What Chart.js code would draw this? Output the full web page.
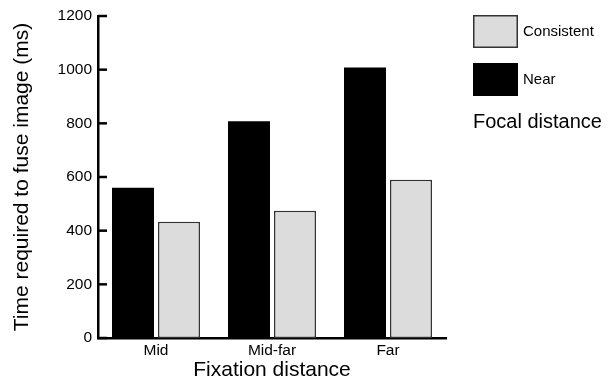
<!DOCTYPE html>
<html>
<head>
<meta charset="utf-8">
<script src="https://cdn.jsdelivr.net/npm/chart.js@4"></script>
<style>
  body { margin: 0; background: #fff; }
  #wrap { width: 612px; height: 381px; }
</style>
</head>
<body>
<div id="wrap"><canvas id="canvas" width="612" height="381"></canvas></div>
<script>
// data
const categories = ['Mid', 'Mid-far', 'Far'];
const nearValues = [560, 808, 1008];
const consistentValues = [433, 474, 590];
const yMin = 0, yMax = 1200, yStep = 200;
const legendTitle = 'Focal distance';

const FONT = "'Liberation Sans', Arial, sans-serif";

// inward tick marks on the y axis
const inwardTicks = {
  id: 'inwardTicks',
  afterDraw(chart) {
    const ctx = chart.ctx;
    const y = chart.scales.y;
    const left = chart.chartArea.left;
    ctx.save();
    ctx.strokeStyle = '#000';
    ctx.lineWidth = 2.5;
    y.ticks.forEach(t => {
      const py = y.getPixelForValue(t.value);
      ctx.beginPath();
      ctx.moveTo(left, py);
      ctx.lineTo(left + 9, py);
      ctx.stroke();
    });
    ctx.restore();
  }
};

// legend on the right: Consistent above Near, title below
const sideLegend = {
  id: 'sideLegend',
  afterDraw(chart) {
    const ctx = chart.ctx;
    const sets = chart.data.datasets.slice().reverse();
    const x = 473, w = 45, h = 33;
    let top = 15;
    ctx.save();
    sets.forEach(ds => {
      ctx.fillStyle = ds.backgroundColor;
      ctx.fillRect(x, top, w, h);
      ctx.strokeStyle = ds.borderColor;
      ctx.lineWidth = 1.5;
      ctx.strokeRect(x + 0.75, top + 0.75, w - 1.5, h - 1.5);
      ctx.fillStyle = '#000';
      ctx.font = '15px ' + FONT;
      ctx.textBaseline = 'middle';
      ctx.fillText(ds.label, x + w + 5, top + h / 2);
      top += 48;
    });
    ctx.font = '20px ' + FONT;
    ctx.textBaseline = 'middle';
    ctx.fillText(legendTitle, x, 122);
    ctx.restore();
  }
};

const ctx = document.getElementById('canvas').getContext('2d');
const myChart = new Chart(ctx, {
  type: 'bar',
  data: {
    labels: categories,
    datasets: [{
      label: 'Near',
      data: nearValues,
      backgroundColor: '#000000',
      borderColor: '#000000',
      borderWidth: 0
    }, {
      label: 'Consistent',
      data: consistentValues,
      backgroundColor: '#dcdcdc',
      borderColor: '#333333',
      borderWidth: 1.5,
      borderSkipped: false
    }]
  },
  options: {
    responsive: false,
    animation: false,
    datasets: {
      bar: { categoryPercentage: 0.793, barPercentage: 0.913 }
    },
    layout: { padding: { left: 0, right: 166, top: 16, bottom: 0 } },
    plugins: {
      legend: { display: false },
      tooltip: { enabled: false }
    },
    scales: {
      x: {
        grid: { display: false, drawTicks: false },
        border: { display: true, color: '#000', width: 2.5 },
        ticks: { color: '#000', font: { family: FONT, size: 15.5 }, padding: 3 },
        title: {
          display: true, text: 'Fixation distance', color: '#000',
          font: { family: FONT, size: 21, lineHeight: 1 }, padding: { top: 0, bottom: 0 }
        },
        afterFit(scale) { scale.height = 43; }
      },
      y: {
        min: yMin, max: yMax,
        grid: { display: false, drawTicks: false },
        border: { display: true, color: '#000', width: 2.5 },
        ticks: {
          stepSize: yStep, color: '#000', font: { family: FONT, size: 15.5 }, padding: 6,
          callback: v => String(v)
        },
        title: {
          display: true, text: 'Time required to fuse image (ms)', color: '#000',
          font: { family: FONT, size: 21, lineHeight: 1 }, padding: { top: 12, bottom: 0 }
        },
        afterFit(scale) { scale.width = 98; }
      }
    }
  },
  plugins: [inwardTicks, sideLegend]
});
</script>
</body>
</html>
